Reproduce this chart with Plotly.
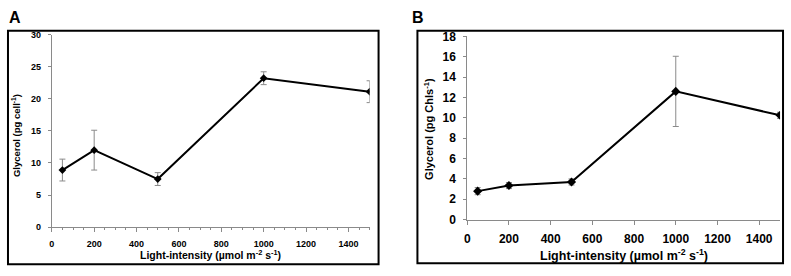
import plotly.graph_objects as go

light = [50, 200, 500, 1000, 1500]
glycerol_cell = [8.9, 12.0, 7.5, 23.2, 21.1]
glycerol_cell_err = [1.7, 3.1, 1.0, 1.0, 1.7]
glycerol_chl = [2.8, 3.35, 3.7, 12.6, 10.25]
glycerol_chl_err = [0.35, 0.3, 0.3, 3.45, 0.3]

x_ticks = [0, 200, 400, 600, 800, 1000, 1200, 1400]
yA_ticks = [0, 5, 10, 15, 20, 25, 30]
yB_ticks = [0, 2, 4, 6, 8, 10, 12, 14, 16, 18]

W, H = 791, 276
def px(x): return x / W
def py(y): return 1 - y / H

FONT = "Liberation Sans, Arial, sans-serif"
ERRC = "#8a8a8a"
AXC = "#8a8a8a"

def bold(vals):
    return ["<b>%s</b>" % v for v in vals]

fig = go.Figure()
fig.add_trace(go.Scatter(
    x=light, y=glycerol_cell, mode="lines+markers",
    line=dict(color="black", width=2),
    marker=dict(symbol="diamond", size=6, color="black"),
    error_y=dict(type="data", array=glycerol_cell_err, color=ERRC, thickness=1, width=3),
    xaxis="x", yaxis="y", showlegend=False))
fig.add_trace(go.Scatter(
    x=light, y=glycerol_chl, mode="lines+markers",
    line=dict(color="black", width=2),
    marker=dict(symbol="diamond", size=7, color="black"),
    error_y=dict(type="data", array=glycerol_chl_err, color=ERRC, thickness=1, width=3),
    xaxis="x2", yaxis="y2", showlegend=False))

axA_font = dict(family=FONT, size=9, color="black")
axB_font = dict(family=FONT, size=12, color="black")

fig.update_layout(
    width=W, height=H, margin=dict(l=0, r=0, t=0, b=0),
    paper_bgcolor="white", plot_bgcolor="white",
    xaxis=dict(domain=[px(49), px(368)], anchor="y", range=[0, 1500],
               tickvals=x_ticks, ticktext=bold(x_ticks), ticklabelstandoff=4,
               showgrid=False, zeroline=False, showline=True, linecolor=AXC, linewidth=1,
               ticks="outside", ticklen=4, tickcolor=AXC, tickfont=axA_font,
               minor=dict(dtick=50, ticks="outside", ticklen=2, tickcolor=AXC)),
    yaxis=dict(domain=[py(232), py(29)], anchor="x", range=[0, 30],
               tickvals=yA_ticks, ticktext=bold(yA_ticks), ticklabelstandoff=5,
               showgrid=False, zeroline=False, showline=True, linecolor=AXC, linewidth=1,
               ticks="outside", ticklen=3, tickcolor=AXC, tickfont=axA_font),
    xaxis2=dict(domain=[px(466), px(780)], anchor="y2", range=[0, 1500],
                tickvals=x_ticks, ticktext=bold(x_ticks), ticklabelstandoff=4,
                showgrid=False, zeroline=False, showline=True, linecolor=AXC, linewidth=1,
                ticks="outside", ticklen=4, tickcolor=AXC, tickfont=axB_font),
    yaxis2=dict(domain=[py(224), py(31)], anchor="x2", range=[0, 18],
                tickvals=yB_ticks, ticktext=bold(yB_ticks), ticklabelstandoff=5,
                showgrid=False, zeroline=False, showline=True, linecolor=AXC, linewidth=1,
                ticks="outside", ticklen=3, tickcolor=AXC, tickfont=axB_font),
)

shapes = [
    dict(type="rect", xref="paper", yref="paper", x0=px(5), x1=px(377), y0=py(271), y1=py(25),
         line=dict(color="black", width=2)),
    dict(type="rect", xref="paper", yref="paper", x0=px(416), x1=px(783), y0=py(270), y1=py(25),
         line=dict(color="black", width=2)),
]
fig.update_layout(shapes=shapes)

ann = [
    dict(text="<b>A</b>", x=px(4), y=py(11), xanchor="left", yanchor="middle",
         font=dict(family=FONT, size=16, color="black")),
    dict(text="<b>B</b>", x=px(409), y=py(11), xanchor="left", yanchor="middle",
         font=dict(family=FONT, size=16, color="black")),
    dict(text="<b>Light-intensity (µmol m<sup>-2</sup> s<sup>-1</sup>)</b>", x=px(208), y=py(261),
         xanchor="center", yanchor="middle", font=dict(family=FONT, size=10.5, color="black")),
    dict(text="<b>Glycerol (pg cell<sup>-1</sup>)</b>", x=px(13), y=py(135), textangle=-90,
         xanchor="center", yanchor="middle", font=dict(family=FONT, size=9.5, color="black")),
    dict(text="<b>Light-intensity (µmol m<sup>-2</sup> s<sup>-1</sup>)</b>", x=px(623), y=py(261),
         xanchor="center", yanchor="middle", font=dict(family=FONT, size=12.5, color="black")),
    dict(text="<b>Glycerol (pg Chls<sup>-1</sup>)</b>", x=px(427), y=py(128), textangle=-90,
         xanchor="center", yanchor="middle", font=dict(family=FONT, size=11, color="black")),
]
for a in ann:
    a.update(xref="paper", yref="paper", showarrow=False)
fig.update_layout(annotations=ann)

fig.write_html("out.html", config={"displayModeBar": False},
               post_script="document.body.style.margin='0';")
